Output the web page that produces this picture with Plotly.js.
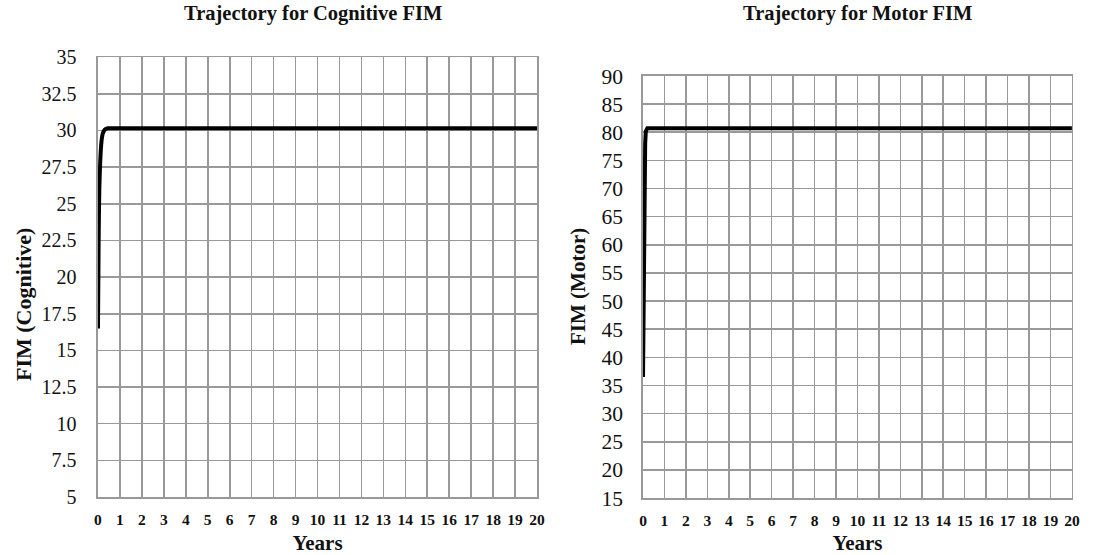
<!DOCTYPE html>
<html>
<head>
<meta charset="utf-8">
<script src="https://cdn.plot.ly/plotly-3.0.1.min.js"></script>
<style>html,body{margin:0;padding:0;background:#fff;}#chart{width:1096px;height:555px;}</style>
</head>
<body>
<div id="chart"></div>
<script>
// Cognitive FIM trajectory
const cogYears = [0, 0.03, 0.06, 0.1, 0.14, 0.18, 0.22, 0.28, 0.35, 0.45, 1, 5, 10, 15, 20];
const cogFIM   = [16.5, 22.5, 26.0, 27.8, 28.9, 29.5, 29.8, 30.0, 30.1, 30.15, 30.15, 30.15, 30.15, 30.15, 30.15];
// Motor FIM trajectory
const motYears = [0, 0.06, 0.1, 0.13, 0.16, 0.2, 1, 5, 10, 15, 20];
const motFIM   = [36.5, 70, 78, 80.2, 80.6, 80.7, 80.7, 80.7, 80.7, 80.7, 80.7];

const xTicks = [0,1,2,3,4,5,6,7,8,9,10,11,12,13,14,15,16,17,18,19,20];
const cogTicks = [5,7.5,10,12.5,15,17.5,20,22.5,25,27.5,30,32.5,35];
const motTicks = [15,20,25,30,35,40,45,50,55,60,65,70,75,80,85,90];

const serif = "Liberation Serif, Times New Roman, serif";
const grid = "#999999";

function xax(domain, anchor){
  return {
    domain: domain, anchor: anchor, range: [0, 20],
    tickvals: xTicks, ticktext: xTicks.map(v => "<b>" + v + "</b>"),
    tickfont: {family: serif, size: 15.5, color: "#111"},
    showgrid: true, gridcolor: grid, gridwidth: 1.6,
    showline: true, linecolor: grid, linewidth: 1.6, mirror: true,
    zeroline: false, ticks: "outside", ticklen: 8, tickcolor: "rgba(0,0,0,0)",
    title: {text: "<b>Years</b>", font: {family: serif, size: 21, color: "#111"}, standoff: 12},
    automargin: false
  };
}
function yax(domain, anchor, range, ticks, fontSize, tickLen){
  return {
    domain: domain, anchor: anchor, range: range,
    tickvals: ticks,
    tickfont: {family: serif, size: fontSize, color: "#111"},
    showgrid: true, gridcolor: grid, gridwidth: 1.6,
    showline: true, linecolor: grid, linewidth: 1.6, mirror: true,
    zeroline: false, ticks: "outside", ticklen: tickLen, tickcolor: "rgba(0,0,0,0)",
    automargin: false
  };
}

const data = [
  {x: cogYears, y: cogFIM, xaxis: "x", yaxis: "y", type: "scatter", mode: "lines",
   line: {color: "#000", width: 4, shape: "spline", smoothing: 0.6}, name: "Cognitive FIM", showlegend: false},
  {x: motYears, y: motFIM, xaxis: "x2", yaxis: "y2", type: "scatter", mode: "lines",
   line: {color: "#000", width: 4}, name: "Motor FIM", showlegend: false}
];

const layout = {
  width: 1096, height: 555,
  margin: {l: 0, r: 0, t: 0, b: 0},
  paper_bgcolor: "#fff", plot_bgcolor: "#fff",
  showlegend: false,
  xaxis: xax([0.0894, 0.490], "y"),
  yaxis: yax([0.1045, 0.897], "x", [5, 35], cogTicks, 20, 16),
  xaxis2: xax([0.5867, 0.978], "y2"),
  yaxis2: yax([0.1027, 0.863], "x2", [15, 90], motTicks, 21.5, 14),
  annotations: [
    {text: "<b>Trajectory for Cognitive FIM</b>", xref: "paper", yref: "paper",
     x: 0.286, y: 1 - 14/555, xanchor: "center", yanchor: "middle", showarrow: false,
     font: {family: serif, size: 20.5, color: "#111"}},
    {text: "<b>Trajectory for Motor FIM</b>", xref: "paper", yref: "paper",
     x: 0.782, y: 1 - 14/555, xanchor: "center", yanchor: "middle", showarrow: false,
     font: {family: serif, size: 20.5, color: "#111"}},
    {text: "<b>FIM (Cognitive)</b>", xref: "paper", yref: "paper", textangle: -90,
     x: 23/1096, y: 1 - 305/555, xanchor: "center", yanchor: "middle", showarrow: false,
     font: {family: serif, size: 22, color: "#111"}},
    {text: "<b>FIM (Motor)</b>", xref: "paper", yref: "paper", textangle: -90,
     x: 578/1096, y: 1 - 287/555, xanchor: "center", yanchor: "middle", showarrow: false,
     font: {family: serif, size: 21, color: "#111"}}
  ]
};

Plotly.newPlot("chart", data, layout, {staticPlot: true, displayModeBar: false});
</script>
</body>
</html>
